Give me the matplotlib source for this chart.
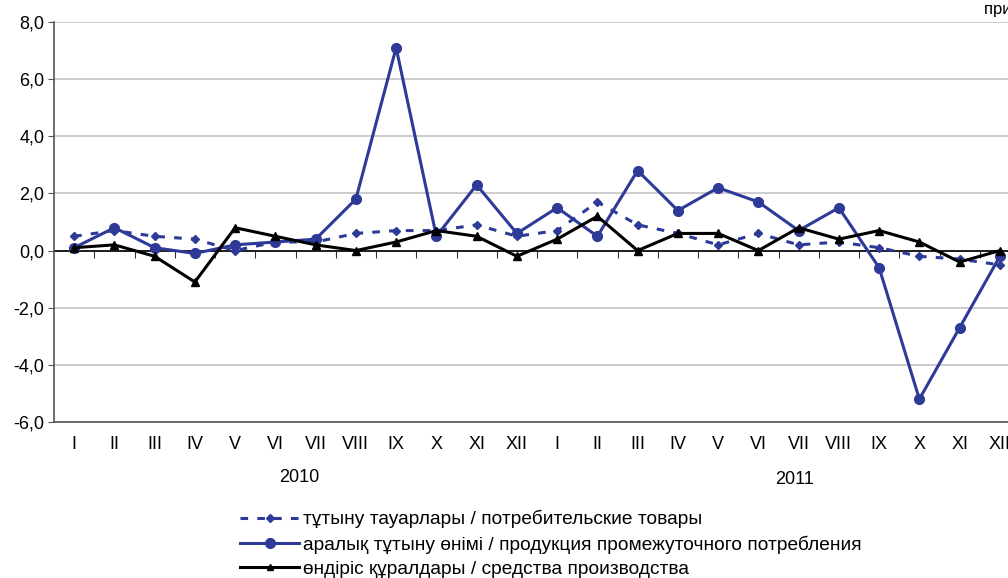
import matplotlib
matplotlib.use("Agg")
import matplotlib.pyplot as plt
from matplotlib.lines import Line2D
from matplotlib.ticker import FuncFormatter, FixedLocator

plt.rcParams['font.family'] = ['Liberation Sans', 'DejaVu Sans']

months = ["I", "II", "III", "IV", "V", "VI", "VII", "VIII", "IX", "X", "XI", "XII",
          "I", "II", "III", "IV", "V", "VI", "VII", "VIII", "IX", "X", "XI", "XII"]
years = ["2010", "2011"]

consumer = [0.5, 0.7, 0.5, 0.4, 0.0, 0.3, 0.3, 0.6, 0.7, 0.7, 0.9, 0.5,
            0.7, 1.7, 0.9, 0.6, 0.2, 0.6, 0.2, 0.3, 0.1, -0.2, -0.3, -0.5]
intermediate = [0.1, 0.8, 0.1, -0.1, 0.2, 0.3, 0.4, 1.8, 7.1, 0.5, 2.3, 0.6,
                1.5, 0.5, 2.8, 1.4, 2.2, 1.7, 0.7, 1.5, -0.6, -5.2, -2.7, -0.2]
capital = [0.1, 0.2, -0.2, -1.1, 0.8, 0.5, 0.2, 0.0, 0.3, 0.7, 0.5, -0.2,
           0.4, 1.2, 0.0, 0.6, 0.6, 0.0, 0.8, 0.4, 0.7, 0.3, -0.4, 0.0]

labels = ["тұтыну тауарлары / потребительские товары",
          "аралық тұтыну өнімі / продукция промежуточного потребления",
          "өндіріс құралдары / средства производства"]

blue = "#2E3A97"
W, H = 1008, 578
fig = plt.figure(figsize=(W / 100, H / 100), dpi=100)
ax = fig.add_axes([54 / W, (H - 422) / H, (1020 - 54) / W, 400 / H])

x = list(range(len(months)))
dots = (0, (2.5, 3.0))
ax.plot(x, consumer, color=blue, lw=2.2, ls=dots, marker='D', ms=4, zorder=3)
ax.plot(x, intermediate, color=blue, lw=2.2, marker='o', ms=7, zorder=4)
ax.plot(x, capital, color='black', lw=2.2, marker='^', ms=6, zorder=5)

ax.set_xlim(-0.5, len(months) - 0.5)
ax.set_ylim(-6, 8)
ax.set_yticks(range(-6, 9, 2))
ax.yaxis.set_major_formatter(FuncFormatter(lambda v, p: f"{v:.1f}".replace('.', ',')))
ax.grid(axis='y', color='#c8c8c8', lw=1.3)
ax.set_axisbelow(True)
ax.axhline(0, color='black', lw=1.2, zorder=2)

for s in ['top', 'right']:
    ax.spines[s].set_visible(False)
ax.spines['left'].set_color('#555555')
ax.spines['bottom'].set_color('#555555')
ax.spines['left'].set_linewidth(1.2)
ax.spines['bottom'].set_linewidth(1.2)

ax.tick_params(axis='y', labelsize=13, length=4, color='#555555', pad=3)
ax.set_xticks(x)
ax.set_xticklabels(months, fontsize=13)
ax.tick_params(axis='x', length=0, pad=10)

# boundary ticks on the zero line
sec = ax.secondary_xaxis(6 / 14)
sec.xaxis.set_major_locator(FixedLocator([i + 0.5 for i in range(len(months))]))
sec.tick_params(axis='x', direction='out', length=5, color='#333333', labelbottom=False,
                labeltop=False)
sec.spines['bottom'].set_visible(False)
sec.set_xticklabels([])

ax.text(5.6, -0.1375, years[0], transform=ax.get_xaxis_transform(), ha='center', va='center',
        fontsize=13)
ax.text(17.9, -0.145, years[1], transform=ax.get_xaxis_transform(), ha='center', va='center',
        fontsize=13)

fig.text(984 / W, 1 - 2 / H, "приросты, %", ha='left', va='top', fontsize=12)

handles = [
    Line2D([], [], color=blue, lw=2.2, ls=dots, marker='D', ms=4),
    Line2D([], [], color=blue, lw=2.2, marker='o', ms=7),
    Line2D([], [], color='black', lw=2.2, marker='^', ms=4),
]
fig.legend(handles, labels, loc='upper left', bbox_to_anchor=(240 / W, 1 - 510 / H),
           frameon=False, fontsize=13.8, handlelength=3.1, handletextpad=0.2,
           labelspacing=0.36, numpoints=1, borderaxespad=0, borderpad=0)

fig.savefig("out.png", dpi=100)
